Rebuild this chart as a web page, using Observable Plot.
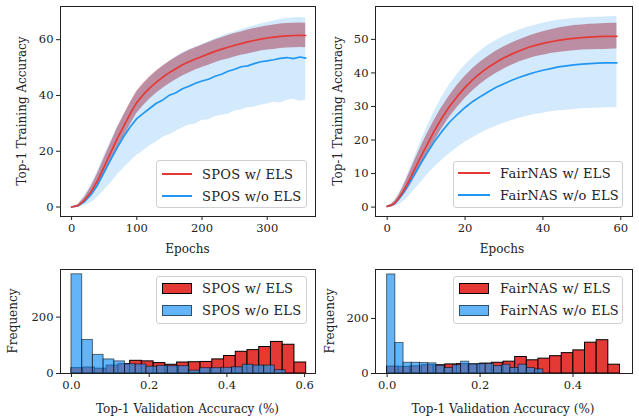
<!DOCTYPE html>
<html><head><meta charset="utf-8">
<script src="https://cdn.jsdelivr.net/npm/d3@7"></script>
<script src="https://cdn.jsdelivr.net/npm/@observablehq/plot@0.6"></script>
<style>
body{margin:0;background:#fff;}
#root{position:relative;width:639px;height:419px;font-family:"DejaVu Serif",serif;color:#222;overflow:hidden;}
.p{position:absolute;}
.lbl{position:absolute;font-size:12px;white-space:nowrap;transform:translate(-50%,-50%);}
.ylbl{transform:translate(-50%,-50%) rotate(-90deg);}
.leg{position:absolute;background:rgba(255,255,255,0.85);border:1px solid #d0d0d0;border-radius:3px;box-sizing:border-box;}
.txt{position:absolute;font-size:13px;letter-spacing:0.3px;white-space:nowrap;transform:translateY(-50%);}
.sw{position:absolute;}
</style></head><body><div id="root"></div><script>
// ---------- SPOS training curves (epochs 0..359) ----------
const sposEpochs = [0,10,20,30,40,50,60,70,80,90,100,110,120,130,140,150,160,170,180,190,200,210,220,230,240,250,260,270,280,290,300,310,320,330,340,350,359];
const sposRedMean = [0,0.5,2.5,5.5,9.5,14.5,19.5,24.5,29,33.5,37.5,40.3,42.7,44.8,46.6,48.2,49.6,51,52.1,53.1,54,54.9,55.8,56.6,57.3,58,58.6,59.2,59.7,60.2,60.6,60.9,61.2,61.4,61.5,61.6,61.5];
const sposRedHi = [0,0.8,3.5,7.3,12,17.5,22.9,28.2,32.9,37.5,41.5,44.3,46.7,48.8,50.6,52.2,53.6,55,56.1,57.1,58,59,59.9,60.7,61.5,62.2,62.8,63.5,64,64.5,64.9,65.3,65.6,65.8,65.9,66,65.9];
const sposRedLo = [0,0.2,1.5,3.7,7,11.5,16.1,20.8,25.1,29.5,33.5,36.3,38.7,40.8,42.6,44.2,45.6,47,48.1,49.1,50,50.8,51.7,52.5,53.1,53.8,54.4,54.9,55.4,55.9,56.3,56.5,56.8,57,57.1,57.2,57.1];
const sposBlueMean = [0,0.4,2,4.5,8,12.5,17,21.3,25.3,28.8,31.7,33.6,35.4,37.2,38.4,40.1,41,42.4,43.3,44.4,45.2,45.8,46.9,47.6,48.7,49.4,50.3,50.6,51.4,52.1,52.4,52.8,53.3,53.6,53.2,53.8,53.4];
const sposBlueHi = [0,1,4,8,13,18.5,23.5,28.5,33,37,41,43.7,46.2,48.4,50.4,52.3,53.9,55.3,56.5,57.4,58.3,59.3,60.3,61.2,62.1,62.8,63.6,64.3,64.9,65.6,66.2,66.7,67.2,67.6,67.9,68,67.8];
const sposBlueLo = [0,0,0.5,1.5,3.5,6,8.5,11.5,14,16.3,18.6,20.1,22,23.3,25,25.9,27.2,28.3,29.4,29.8,31,31.3,32.4,32.9,33.3,34.4,34.8,35.6,35.8,36.5,36.9,37.6,37.3,38.2,38.6,37.9,38.4];

// ---------- FairNAS training curves (epochs 0..59) ----------
const fairEpochs = [0,1,2,3,4,5,6,7,8,9,10,12,14,16,18,20,22,24,26,28,30,32,34,36,38,40,42,44,46,48,50,52,54,56,58,59];
const fairRedMean = [0.2,0.5,1.2,2.7,4.5,6.5,8.8,11.2,13.5,15.8,18,22.5,26.5,30,33,35.7,38,40,41.7,43.2,44.5,45.6,46.6,47.5,48.2,48.8,49.3,49.7,50.1,50.3,50.5,50.7,50.8,50.9,50.9,50.9];
const fairRedHi = [0.3,0.8,1.8,3.5,5.8,8.3,11,13.7,16.3,18.8,21.2,25.7,29.7,33.2,36.3,39,41.3,43.3,45,46.5,47.8,48.9,49.9,50.8,51.6,52.3,52.9,53.4,53.8,54.1,54.3,54.5,54.6,54.7,54.8,54.8];
const fairRedLo = [0.1,0.2,0.6,1.9,3.2,4.7,6.6,8.7,10.7,12.8,14.8,19.3,23.3,26.8,29.7,32.4,34.7,36.7,38.4,39.9,41.2,42.3,43.3,44.1,44.8,45.3,45.8,46.1,46.4,46.6,46.8,46.9,47,47,47.1,47.1];
const fairBlueMean = [0.2,0.5,1.1,2.4,4,5.8,7.8,9.8,11.8,13.8,15.7,19.3,22.5,25.3,27.6,29.7,31.5,33,34.4,35.7,36.8,37.8,38.7,39.5,40.2,40.8,41.3,41.8,42.1,42.4,42.6,42.8,42.9,43,43,43];
const fairBlueHi = [0.3,0.9,2.2,4,6.3,9,11.9,14.8,17.7,20.5,23.3,28.3,32.7,36.5,39.6,42.3,44.6,46.6,48.3,49.7,50.9,51.9,52.8,53.6,54.2,54.8,55.3,55.7,56,56.2,56.4,56.5,56.6,56.7,56.8,56.8];
const fairBlueLo = [0,0.1,0.2,0.6,1.5,2.5,3.8,5.1,6.5,7.8,9.2,11.7,13.9,15.9,17.7,19.3,20.7,22,23.1,24.1,25,25.8,26.5,27.1,27.6,28,28.4,28.7,28.9,29.1,29.3,29.4,29.5,29.6,29.6,29.6];

// ---------- Validation accuracy histograms ----------
const sposRedRange = [0, 0.604];
const sposRedCounts = [19,21,17,28,33,45,43,37,31,39,40,41,50,62,77,83,94,112,102,39];
const sposBlueRange = [0, 0.551];
const sposBlueCounts = [352,119,66,50,43,33,32,24,27,26,26,10,19,19,20,22,31,28,28,12];
const fairRedRange = [0, 0.501];
const fairRedCounts = [25,24,26,30,30,33,34,33,36,39,43,60,48,54,63,74,84,112,121,32];
const fairBlueRange = [0, 0.336];
const fairBlueCounts = [360,111,39,39,38,37,28,20,30,43,33,34,35,27,32,20,32,20,15];

// ---------- labels ----------
const sposLabels = ["SPOS w/ ELS", "SPOS w/o ELS"];
const fairLabels = ["FairNAS w/ ELS", "FairNAS w/o ELS"];
const yLabelTop = "Top-1 Training Accuracy";
const xLabelTop = "Epochs";
const yLabelBottom = "Frequency";
const xLabelBottom = "Top-1 Validation Accuracy (%)";

const RED = "#e53935", BLUE = "#2196f3";
const root = document.getElementById("root");
const style = {fontFamily: "'DejaVu Serif', serif", fontSize: "11.5px", color: "#222", background: "transparent"};

function place(node, left, top) {
  node.style.position = "absolute"; node.style.left = left + "px"; node.style.top = top + "px";
  root.appendChild(node);
}

function linePanel(ep, rM, rH, rL, bM, bH, bL, xDomain, yDomain, xTicks, yTicks, width, ml, mr) {
  const rows = ep.map((e, i) => ({e, rM: rM[i], rH: rH[i], rL: rL[i], bM: bM[i], bH: bH[i], bL: bL[i]}));
  return Plot.plot({
    width, height: 240, marginLeft: ml, marginRight: mr, marginTop: 6, marginBottom: 24,
    style,
    x: {domain: xDomain, ticks: xTicks, tickSize: 4, tickPadding: 3, label: null, tickFormat: d => String(d)},
    y: {domain: yDomain, ticks: yTicks, tickSize: 4, tickPadding: 3, label: null, tickFormat: d => String(d)},
    marks: [
      Plot.areaY(rows, {x: "e", y1: "bL", y2: "bH", fill: BLUE, fillOpacity: 0.2}),
      Plot.areaY(rows, {x: "e", y1: "rL", y2: "rH", fill: "#a02035", fillOpacity: 0.45}),
      Plot.lineY(rows, {x: "e", y: "bM", stroke: BLUE, strokeWidth: 1.7}),
      Plot.lineY(rows, {x: "e", y: "rM", stroke: RED, strokeWidth: 1.7}),
      Plot.frame({stroke: "#222", strokeWidth: 1})
    ]
  });
}

function bins(range, counts) {
  const w = (range[1] - range[0]) / counts.length;
  return counts.map((c, i) => ({x1: range[0] + i * w, x2: range[0] + (i + 1) * w, y: c}));
}

function histPanel(rR, rC, bR, bC, xDomain, yDomain, xTicks, width, ml, mr) {
  return Plot.plot({
    width, height: 140, marginLeft: ml, marginRight: mr, marginTop: 7, marginBottom: 29,
    style,
    x: {domain: xDomain, ticks: xTicks, tickSize: 4, tickPadding: 3, label: null, tickFormat: d3.format(".1f")},
    y: {domain: yDomain, ticks: [0, 200], tickSize: 4, tickPadding: 3, label: null},
    marks: [
      Plot.rectY(bins(rR, rC), {x1: "x1", x2: "x2", y: "y", fill: RED, stroke: "#000", strokeWidth: 1}),
      Plot.rectY(bins(bR, bC), {x1: "x1", x2: "x2", y: "y", fill: BLUE, fillOpacity: 0.7, stroke: "#000", strokeOpacity: 0.55, strokeWidth: 1}),
      Plot.frame({stroke: "#222", strokeWidth: 1})
    ]
  });
}

place(linePanel(sposEpochs, sposRedMean, sposRedHi, sposRedLo, sposBlueMean, sposBlueHi, sposBlueLo,
  [-17, 374], [-3.4, 71.9], [0, 100, 200, 300], [0, 20, 40, 60], 320, 60, 5), 0, 0);
place(linePanel(fairEpochs, fairRedMean, fairRedHi, fairRedLo, fairBlueMean, fairBlueHi, fairBlueLo,
  [-3, 63], [-2.8, 59.8], [0, 20, 40, 60], [0, 10, 20, 30, 40, 50], 319, 55, 7), 320, 0);
place(histPanel(sposRedRange, sposRedCounts, sposBlueRange, sposBlueCounts,
  [-0.0283, 0.628], [0, 369], [0, 0.2, 0.4, 0.6], 320, 60, 5), 0, 262);
place(histPanel(fairRedRange, fairRedCounts, fairBlueRange, fairBlueCounts,
  [-0.025, 0.528], [0, 378], [0, 0.2, 0.4], 319, 55, 7), 320, 262);

function label(text, x, y, rot) {
  const d = document.createElement("div");
  d.className = "lbl" + (rot ? " ylbl" : "");
  d.textContent = text; d.style.left = x + "px"; d.style.top = y + "px";
  root.appendChild(d);
}
label(xLabelTop, 187.5, 249); label(xLabelTop, 502, 249);
label(yLabelTop, 21.5, 111, true); label(yLabelTop, 338, 111, true);
label(yLabelBottom, 13, 321, true); label(yLabelBottom, 330, 321, true);
label(xLabelBottom, 187.5, 409); label(xLabelBottom, 503, 409);

function legend(box, labels, kind, swX, txtX, rowsY) {
  const b = document.createElement("div"); b.className = "leg";
  Object.assign(b.style, {left: box[0] + "px", top: box[1] + "px", width: box[2] + "px", height: box[3] + "px"});
  root.appendChild(b);
  const cols = [RED, BLUE];
  labels.forEach((t, i) => {
    const s = document.createElement("div"); s.className = "sw";
    if (kind === "line") {
      Object.assign(s.style, {left: swX[0] + "px", top: (rowsY[i] - 1) + "px", width: (swX[1] - swX[0]) + "px", height: "2px", background: cols[i]});
    } else {
      Object.assign(s.style, {left: swX[0] + "px", top: (rowsY[i] - 5.5) + "px", width: (swX[1] - swX[0] - 2) + "px", height: "9px",
        background: i === 0 ? RED : "rgba(33,150,243,0.7)", border: "1px solid " + (i === 0 ? "#000" : "rgba(0,0,0,0.55)")});
    }
    root.appendChild(s);
    const tx = document.createElement("div"); tx.className = "txt"; tx.textContent = t;
    tx.style.left = txtX + "px"; tx.style.top = rowsY[i] + "px";
    root.appendChild(tx);
  });
}
legend([156, 160, 151, 48], sposLabels, "line", [162, 192], 202, [173.5, 195.5]);
legend([453, 161, 170, 47], fairLabels, "line", [458, 490], 500, [173, 194.5]);
legend([156, 276, 151, 48], sposLabels, "patch", [162, 192], 202, [288, 310]);
legend([453, 276, 170, 48], fairLabels, "patch", [459, 489], 500, [288, 310]);
</script></body></html>
